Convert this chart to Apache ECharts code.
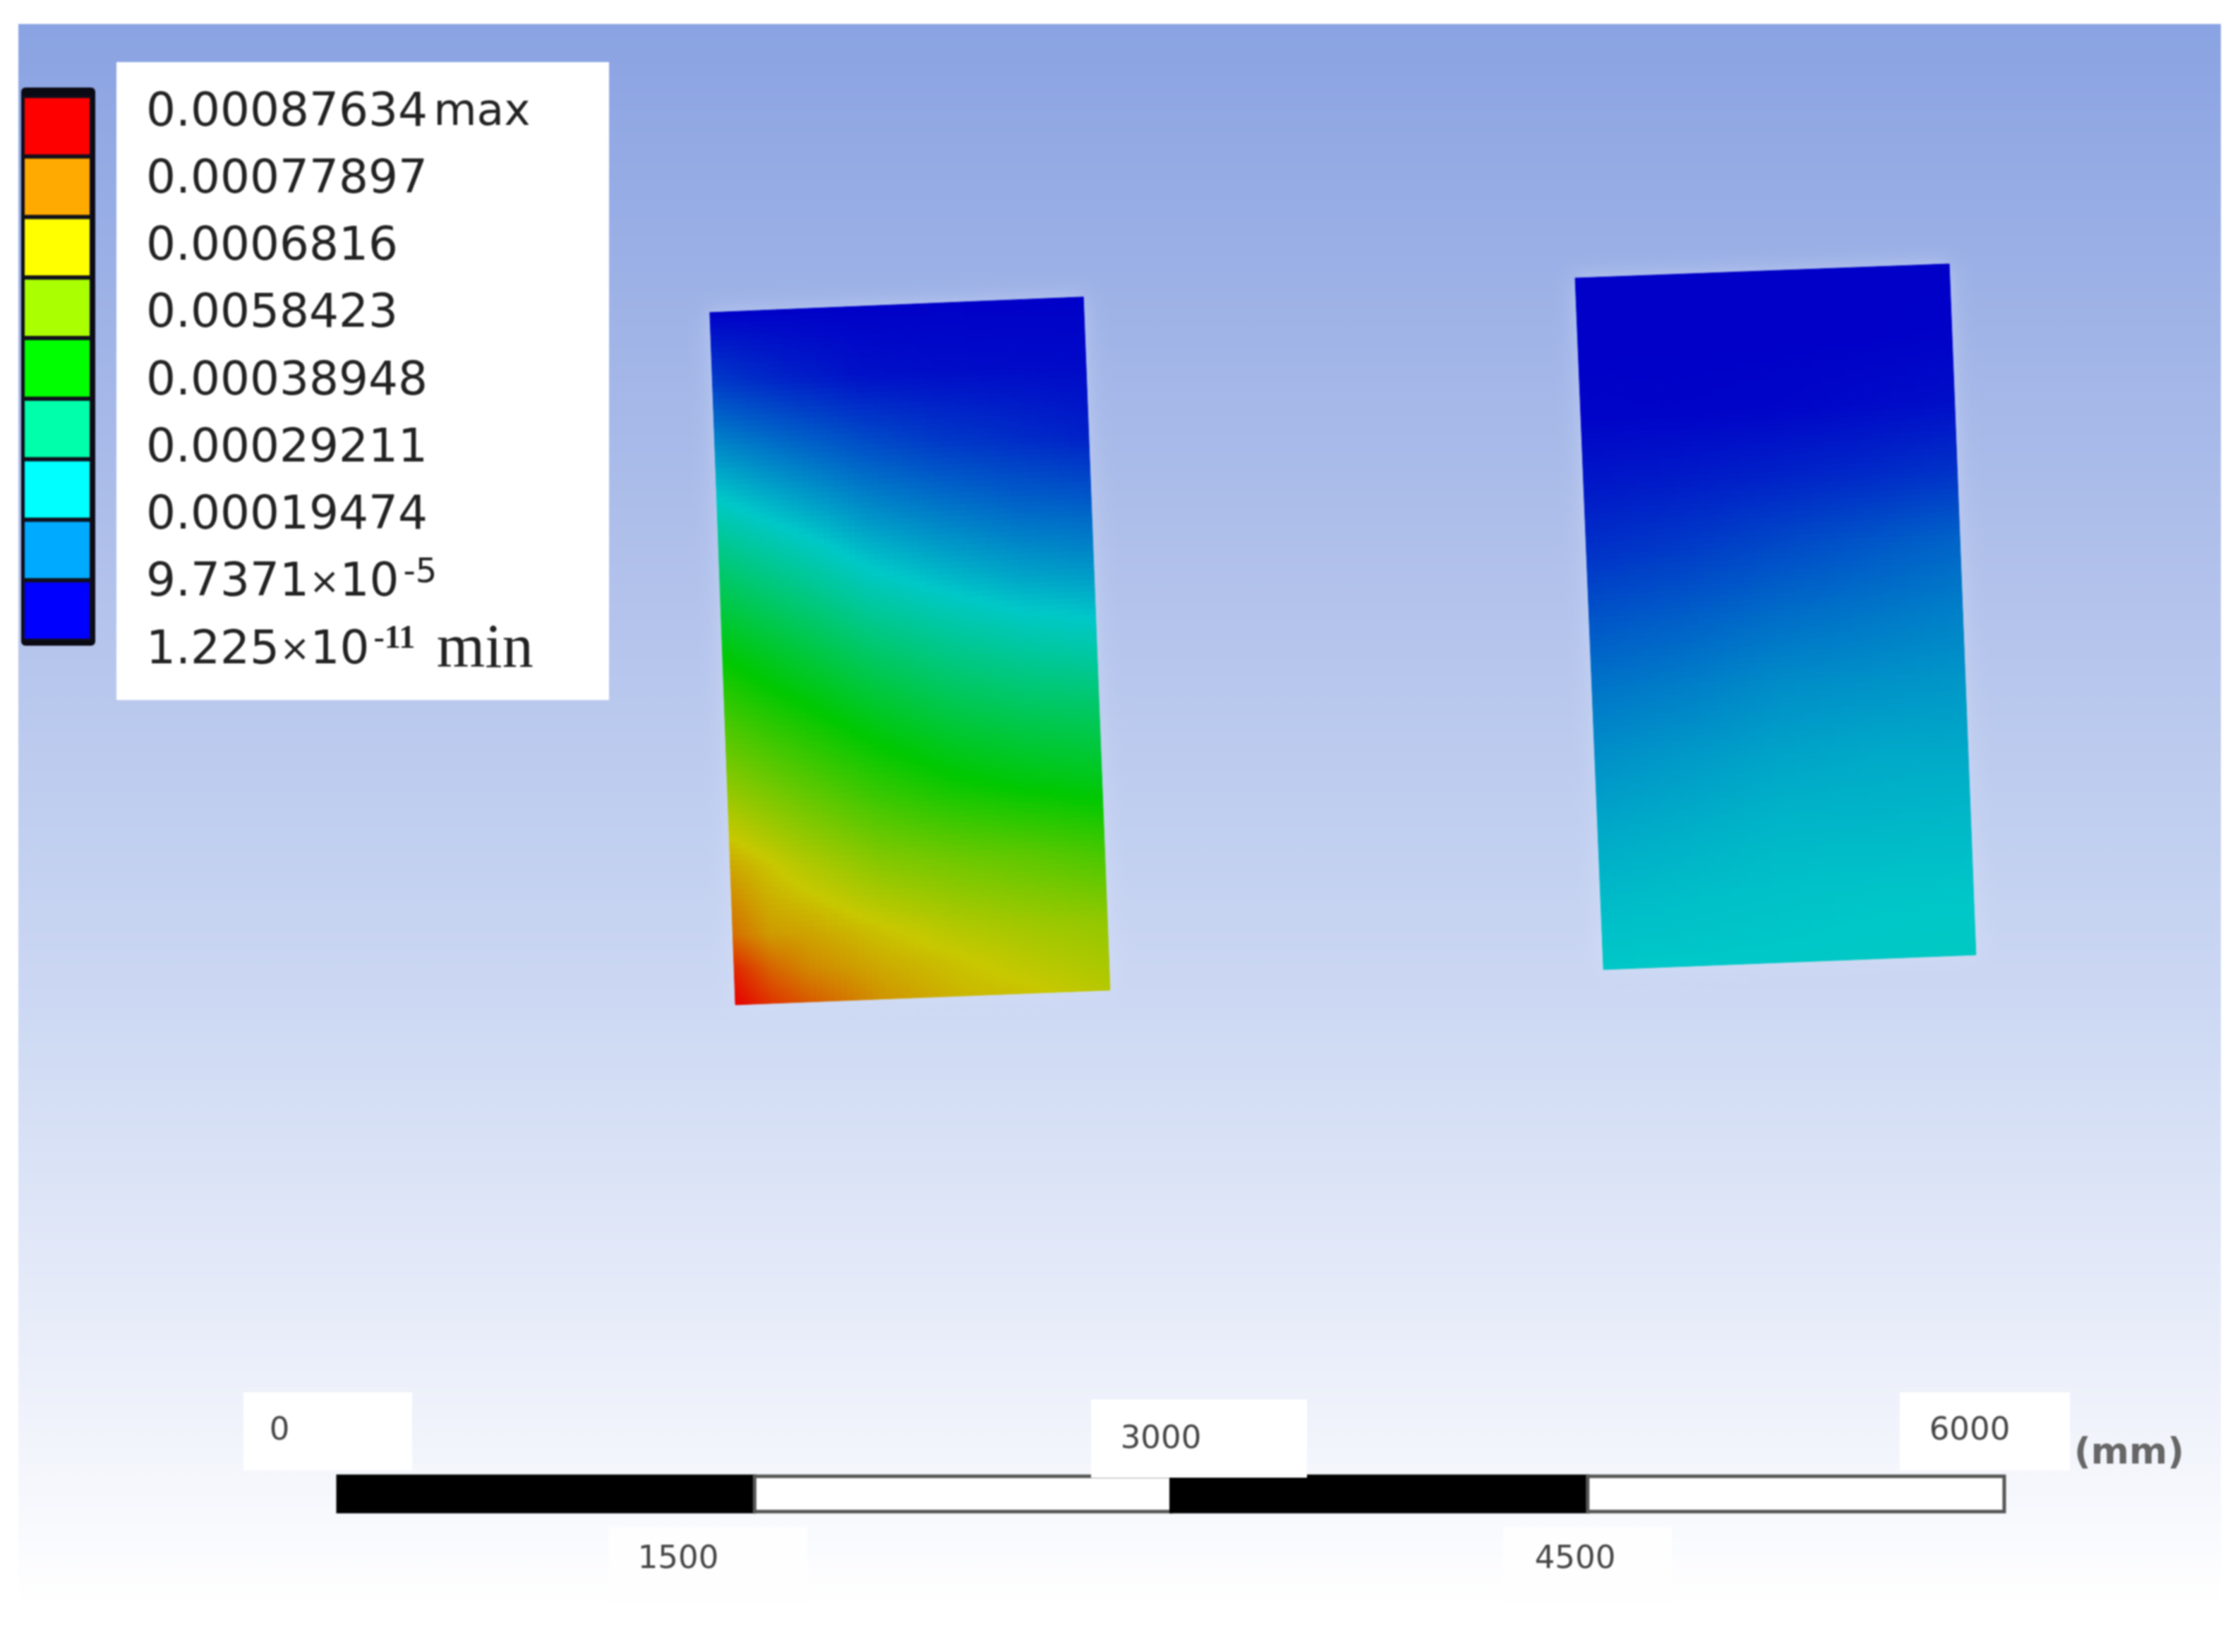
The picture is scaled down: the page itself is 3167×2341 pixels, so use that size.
<!DOCTYPE html>
<html><head><meta charset="utf-8"><style>html,body{margin:0;padding:0;background:#fff}#c{width:3167px;height:2341px;filter:blur(1.1px)}</style>
<script src="https://cdn.jsdelivr.net/npm/echarts@6/dist/echarts.min.js"></script></head>
<body><div id="c"></div><script>
// Legend
const legendValues = ['0.00087634','0.00077897','0.0006816','0.0058423','0.00038948','0.00029211','0.00019474','9.7371×10','1.225×10'];
const legendExponents = ['','','','','','','','-5','-11'];
const legendSuffix = ['max','','','','','','','','min'];
const bandColors = ['#ff0000','#ffaa00','#ffff00','#aaff00','#00ff00','#00ffaa','#00ffff','#00aaff','#0000ff'];
const bandIndex = ['b1','b2','b3','b4','b5','b6','b7','b8','b9'];
// Scale bar (mm)
const scaleTicks = [0,1500,3000,4500,6000];
const scaleFill = ['#000000','#ffffff','#000000','#ffffff'];
// Field readings, units of 1e-5; rows top to bottom, columns left to right
const leftRows = [0,.1,.2,.3,.4,.5,.6,.7,.8,.9,.95,1];
const leftCols = [0,.1,.2,.4,.6,.8,1];
const leftField = [
 [0,0,0,0,0,0,0],
 [6.5,5,3.7,1.8,1.4,1.2,1],
 [15.6,13.8,12,8.7,6.3,4.9,3.4],
 [24.9,22.5,20.3,16,13.4,11.3,10.3],
 [34.4,31.7,29.2,23.8,20.6,18.2,16.9],
 [44,41,38.2,32.6,28.8,26.2,24.6],
 [52.5,49.6,46.9,41.4,37.2,34.7,33.4],
 [60.9,58,55.2,49.7,45.7,43.2,41.5],
 [69.7,66.5,63.5,58.5,56,54,51.5],
 [76,71,70,66.5,63.5,61.5,60],
 [84,77,73,69,66.5,64,62],
 [88,82,78,71.5,68,66.5,64]];
const rightRows = [0,.1,.2,.3,.4,.5,.6,.7,.8,.9,1];
const rightCols = [0,.25,.5,.75,1];
const rightField = [
 [0,0,0,0,0],
 [0,0,0,0,.2],
 [.4,.3,.5,1,1.5],
 [2.5,3,3.7,4.5,5.5],
 [5.5,6.5,8,9.5,11],
 [9.5,10.5,12,13,14],
 [13,14,15.5,16,16.5],
 [16,17,18,18.5,18.5],
 [18.5,19.2,20,20,20.2],
 [20.5,21,21.3,21.5,21.6],
 [22,22,22.1,22.4,22.8]];
// Plate corners in mm: TL, TR, BR, BL
const leftCorners = [[1339,4323],[2684,4379],[2780,1883],[1431,1830]];
const rightCorners = [[4455,4447],[5802,4498],[5898,2010],[4557,1957]];
const plates = [
 {rows:leftRows,cols:leftCols,field:leftField,corners:leftCorners},
 {rows:rightRows,cols:rightCols,field:rightField,corners:rightCorners}];
const cellData = [];
plates.forEach((p,k)=>{for(let r=0;r<p.rows.length-1;r++)for(let c=0;c<p.cols.length-1;c++)cellData.push([k,r,c]);});
const ramp = [[0,0,0,200],[22,0,200,200],[44,0,200,0],[66,200,200,0],[88,230,0,0]];
function col(v){
  for(let i=1;i<ramp.length;i++){ if(v<=ramp[i][0]){const a=ramp[i-1],b=ramp[i],t=(v-a[0])/(b[0]-a[0]);
    return 'rgb('+[1,2,3].map(j=>Math.round(a[j]+(b[j]-a[j])*t)).join(',')+')';}}
  return 'rgb(230,0,0)';
}
function plateXY(p,u,v){const C=p.corners;
  const x=(1-v)*((1-u)*C[0][0]+u*C[1][0])+v*((1-u)*C[3][0]+u*C[2][0]);
  const y=(1-v)*((1-u)*C[0][1]+u*C[1][1])+v*((1-u)*C[3][1]+u*C[2][1]);
  return [x,y];}
const SUB=12;
function renderCell(params,api){
  const p=plates[api.value(0)],r=api.value(1),c=api.value(2),children=[];
  const f=p.field,u0=p.cols[c],u1=p.cols[c+1],v0=p.rows[r],v1=p.rows[r+1];
  for(let i=0;i<SUB;i++)for(let j=0;j<SUB;j++){
    const a=i/SUB,b=(i+1)/SUB,s=j/SUB,t=(j+1)/SUB;
    const ua=u0+(u1-u0)*s,ub=u0+(u1-u0)*t,va=v0+(v1-v0)*a,vb=v0+(v1-v0)*b;
    const sm=(s+t)/2,am=(a+b)/2;
    const val=(1-am)*((1-sm)*f[r][c]+sm*f[r][c+1])+am*((1-sm)*f[r+1][c]+sm*f[r+1][c+1]);
    const color=col(val);
    const pts=[[ua,va],[ub,va],[ub,vb],[ua,vb]].map(q=>api.coord(plateXY(p,q[0],q[1])));
    children.push({type:'polygon',shape:{points:pts},style:{fill:color,stroke:color,lineWidth:1}});
  }
  return {type:'group',children,silent:true};
}
function renderHalo(params,api){
  const p=plates[api.value(0)];
  return {type:'polygon',shape:{points:p.corners.map(c=>api.coord(c))},
    style:{fill:'#c4d0f2',shadowBlur:30,shadowColor:'rgba(220,228,250,0.45)'}};
}
const barBaseMm=5, barTopMm=132;
function renderScale(params,api){
  const i=api.value(0);
  const a=api.coord([scaleTicks[i],barBaseMm]),b=api.coord([scaleTicks[i+1],barTopMm]);
  return {type:'rect',shape:{x:a[0],y:b[1],width:b[0]-a[0],height:a[1]-b[1]},
    style:{fill:scaleFill[i],stroke:scaleFill[i]==='#000000'?'#000':'#555',lineWidth:5}};
}
function box(x,y,w,h,z,fill){return {type:'rect',z:z,shape:{x,y,width:w,height:h},style:{fill:fill||'#fff'}};}
function txt(x,y,t,size,z,extra){return {type:'text',z:z,x,y,style:Object.assign({text:t,fill:'#444',fontFamily:'DejaVu Sans',fontSize:size,align:'center',verticalAlign:'middle'},extra||{})};}
const scaleLabelBoxes=[[345,1973,239,111],[863,2164,281,110],[1546,1983,306,111],[2130,2164,239,106],[2692,1973,241,111]];
const scaleLabelPos=[[396,2028],[961,2210],[1645,2040],[2232,2210],[2791,2028]];
const graphic=[
  {type:'rect',z:-10,shape:{x:26,y:34,width:3121,height:2307},style:{fill:new echarts.graphic.LinearGradient(0,0,0,1,[
     {offset:0,color:'#8aa3e2'},{offset:.3,color:'#adbeea'},{offset:.6,color:'#ccd8f3'},{offset:.85,color:'#eff2fb'},{offset:.97,color:'#ffffff'},{offset:1,color:'#ffffff'}])}},
  box(165,88,698,904,-5),
  {type:'rect',z:-4,shape:{x:30,y:124,width:105,height:791,r:6},style:{fill:'#0a0a14'}},
  txt(3017,2060,'(mm)',52,20,{fontWeight:'bold',fill:'#666'})
];
scaleTicks.forEach((t,i)=>{
  const b=scaleLabelBoxes[i];
  graphic.push(box(b[0],b[1],b[2],b[3],20,i%2?'#fefefe':'#ffffff'));
  graphic.push(txt(scaleLabelPos[i][0],scaleLabelPos[i][1],String(t),45,21));
});
const option={
  animation:false,backgroundColor:'#ffffff',
  graphic:graphic,
  grid:[
    {left:479,width:2361,top:176.5,height:1967.5},
    {left:32,width:98,top:136,height:772},
    {left:207,width:640,top:113,height:857}],
  xAxis:[
    {type:'value',gridIndex:0,min:0,max:6000,show:false},
    {type:'value',gridIndex:1,min:0,max:1,show:false},
    {type:'value',gridIndex:2,min:0,max:1,show:false}],
  yAxis:[
    {type:'value',gridIndex:0,min:0,max:5000,show:false},
    {type:'category',gridIndex:1,inverse:true,data:bandIndex,show:false},
    {type:'category',gridIndex:2,inverse:true,data:legendValues,
      axisLine:{show:false},axisTick:{show:false},splitLine:{show:false},
      axisLabel:{interval:0,hideOverlap:false,showMinLabel:true,showMaxLabel:true,inside:true,margin:0,align:'left',color:'#222',fontFamily:'DejaVu Sans',fontSize:66,
        formatter:(v,i)=>{
          let s=v.indexOf('×')>=0 ? '{v|'+v.split('×')[0]+'}{x|×}{v|'+v.split('×')[1]+'}' : '{v|'+v+'}';
          if(legendExponents[i]) s+='{'+(i===7?'s':'t')+'|'+legendExponents[i]+'}';
          if(legendSuffix[i]) s+=(i===0?'{g| }{u|':'{h|  }{m|')+legendSuffix[i]+'}';
          return s;},
        rich:{
          v:{fontSize:66,fontFamily:'DejaVu Sans',color:'#222',lineHeight:78},
          x:{fontSize:52,fontFamily:'DejaVu Sans',color:'#222',lineHeight:78},
          u:{fontSize:63,fontFamily:'DejaVu Sans',color:'#222',lineHeight:78},
          g:{fontSize:26,lineHeight:78},
          h:{fontSize:48,lineHeight:78},
          m:{fontSize:88,fontFamily:'Liberation Serif',color:'#222',lineHeight:78},
          s:{fontSize:48,fontFamily:'DejaVu Sans',color:'#222',verticalAlign:'top',lineHeight:44,padding:[0,0,52,6]},
          t:{fontSize:46,fontFamily:'Liberation Serif',fontWeight:'bold',color:'#222',verticalAlign:'top',lineHeight:44,padding:[0,0,48,6]}
        }}}],
  series:[
    {type:'bar',xAxisIndex:1,yAxisIndex:1,barWidth:'100%',silent:true,
     data:bandColors.map(c=>({value:1,itemStyle:{color:c,borderColor:'#10101c',borderWidth:3}}))},
    {type:'custom',name:'halo',xAxisIndex:0,yAxisIndex:0,clip:false,silent:true,encode:{x:0,y:0},renderItem:renderHalo,data:plates.map((p,i)=>[i])},
    {type:'custom',name:'field',xAxisIndex:0,yAxisIndex:0,clip:false,silent:true,encode:{x:0,y:1},renderItem:renderCell,data:cellData},
    {type:'custom',name:'scale',xAxisIndex:0,yAxisIndex:0,clip:false,silent:true,encode:{x:0,y:1},renderItem:renderScale,data:scaleFill.map((c,i)=>[i])}
  ]
};
const chart=echarts.init(document.getElementById('c'),null,{width:3167,height:2341,renderer:'canvas'});
chart.setOption(option);
</script></body></html>
